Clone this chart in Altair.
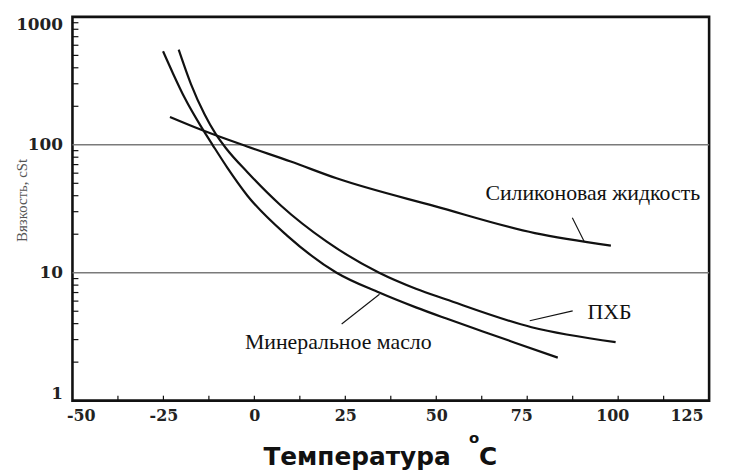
import altair as alt
import pandas as pd

# ---- data ----
mineral_t = [-25.1, -22.4, -19.2, -14.6, -11.5, -7.4, -1.9, 9.0, 22.6, 34.3, 44.4, 52.6, 62.6, 71.6, 83.4]
mineral_v = [538, 363, 234, 138, 100, 66, 40, 19.5, 10, 7.0, 5.36, 4.4, 3.49, 2.84, 2.17]

pcb_t = [-20.8, -17.4, -13.7, -10.6, -7.8, -1.9, 7.2, 19.9, 34.3, 44.4, 52.6, 76.2, 99.3]
pcb_v = [555, 297, 173, 121, 94, 61, 33.7, 17.5, 10, 7.5, 6.2, 3.75, 2.87]

sil_t = [-23.2, -14.6, -2.0, 10.0, 22.6, 49.8, 77.1, 98.0]
sil_v = [165, 131, 97, 74, 54.7, 33, 20.4, 16.3]

x_tick_values = [-50, -25, 0, 25, 50, 75, 100, 125]
x_minor_ticks = [-37.5, -25, -12.5, 0, 12.5, 25, 37.5, 50, 62.5, 75, 87.5, 100, 112.5]
y_tick_values = [1, 10, 100, 1000]
y_minor_ticks = [2, 3, 4, 5, 6, 7, 8, 9, 20, 30, 40, 50, 60, 70, 80, 90,
                 200, 300, 400, 500, 600, 700, 800, 900]
grid_values = [10, 100]

labels = ["Силиконовая жидкость", "ПХБ", "Минеральное масло"]
label_t = [63.5, 91.6, -2.6]
label_v = [41.9, 4.9, 2.88]

leader_t1 = [87.4, 75.7, 24.0]
leader_v1 = [26.9, 4.22, 3.97]
leader_t2 = [90.7, 87.5, 34.4]
leader_v2 = [17.5, 5.03, 6.79]

x_title = "Температура"
y_title = "Вязкость, cSt"

# ---- build tables ----
curves = pd.concat([
    pd.DataFrame({"t": mineral_t, "v": mineral_v, "s": "Минеральное масло"}),
    pd.DataFrame({"t": pcb_t, "v": pcb_v, "s": "ПХБ"}),
    pd.DataFrame({"t": sil_t, "v": sil_v, "s": "Силиконовая жидкость"}),
], ignore_index=True)
ann = pd.DataFrame({"label": labels, "t": label_t, "v": label_v})
leaders = pd.DataFrame({"t": leader_t1, "v": leader_v1, "t2": leader_t2, "v2": leader_v2})

W, H = 642, 387

xscale = alt.Scale(domain=[-50, 125], nice=False, zero=False)
yscale = alt.Scale(type="log", domain=[1, 1000], nice=False)

xaxis = alt.Axis(values=x_tick_values, title=None, grid=False, domain=False, ticks=False,
                 labelExpr="datum.value + ''",
                 labelFont="DejaVu Serif", labelFontWeight="bold", labelFontSize=16,
                 labelColor="#222", labelPadding=7,
                 labelOffset={"condition": {"test": "datum.value >= 75 || datum.value == -50",
                                            "value": -6}, "value": 0})
yaxis = alt.Axis(values=y_tick_values, format="d", title=None, grid=False, domain=False,
                 ticks=False, labelFont="DejaVu Serif", labelFontWeight="bold",
                 labelFontSize=17, labelColor="#222", labelPadding=10,
                 labelBaseline={"condition": {"test": "datum.value == 1000", "value": "top"},
                                "value": "middle"},
                 labelOffset={"condition": {"test": "datum.value == 1", "value": -7},
                              "value": 0})


def X(f):
    return alt.X(f, type="quantitative", scale=xscale, axis=xaxis)


def Y(f):
    return alt.Y(f, type="quantitative", scale=yscale, axis=yaxis)


grid = alt.Chart(pd.DataFrame({"v": grid_values})).mark_rule(
    color="#7a7a7a", strokeWidth=1.6
).encode(y=Y("v"), x=alt.value(0), x2=alt.value(W))

lines = alt.Chart(curves).mark_line(
    color="#111", strokeWidth=2.2, interpolate="monotone"
).encode(x=X("t"), y=Y("v"), detail="s:N")

lead = alt.Chart(leaders).mark_rule(color="#111", strokeWidth=1.1).encode(
    x=X("t"), y=Y("v"), x2="t2:Q", y2="v2:Q")

texts = alt.Chart(ann).mark_text(
    font="Liberation Serif", fontSize=22, color="#111", align="left", baseline="middle"
).encode(x=X("t"), y=Y("v"), text="label:N")

ymin = alt.Chart(pd.DataFrame({"v": y_minor_ticks})).mark_rule(
    color="#111", strokeWidth=1.2
).encode(y=Y("v"), x=alt.value(0), x2=alt.value(6))

xmin = alt.Chart(pd.DataFrame({"t": x_minor_ticks})).mark_rule(
    color="#111", strokeWidth=1.2
).encode(x=X("t"), y=alt.value(H - 5), y2=alt.value(H))

one = pd.DataFrame({"k": [0]})
xt = alt.Chart(one).mark_text(
    text=x_title, font="DejaVu Sans", fontWeight="bold", fontSize=25, color="#111",
    align="center", baseline="middle"
).encode(x=alt.value(287), y=alt.value(444))
xc = alt.Chart(one).mark_text(
    text="C", font="DejaVu Sans", fontWeight="bold", fontSize=25, color="#111",
    align="center", baseline="middle"
).encode(x=alt.value(419), y=alt.value(444))
xo = alt.Chart(one).mark_text(
    text="o", font="DejaVu Sans", fontWeight="bold", fontSize=15, color="#111",
    align="center", baseline="middle"
).encode(x=alt.value(405), y=alt.value(425))
yt = alt.Chart(one).mark_text(
    text=y_title, font="Liberation Serif", fontSize=15, color="#555",
    align="center", baseline="middle", angle=270
).encode(x=alt.value(-51), y=alt.value(185))

chart = alt.layer(grid, lines, lead, texts, ymin, xmin, xt, xc, xo, yt).properties(
    width=W, height=H,
    autosize=alt.AutoSizeParams(type="none"),
    padding={"left": 65, "top": 7, "right": 14, "bottom": 70},
    background="white",
).configure_view(stroke="#111", strokeWidth=2.6)

chart.save("out.html", embed_options={"renderer": "svg", "actions": False})
